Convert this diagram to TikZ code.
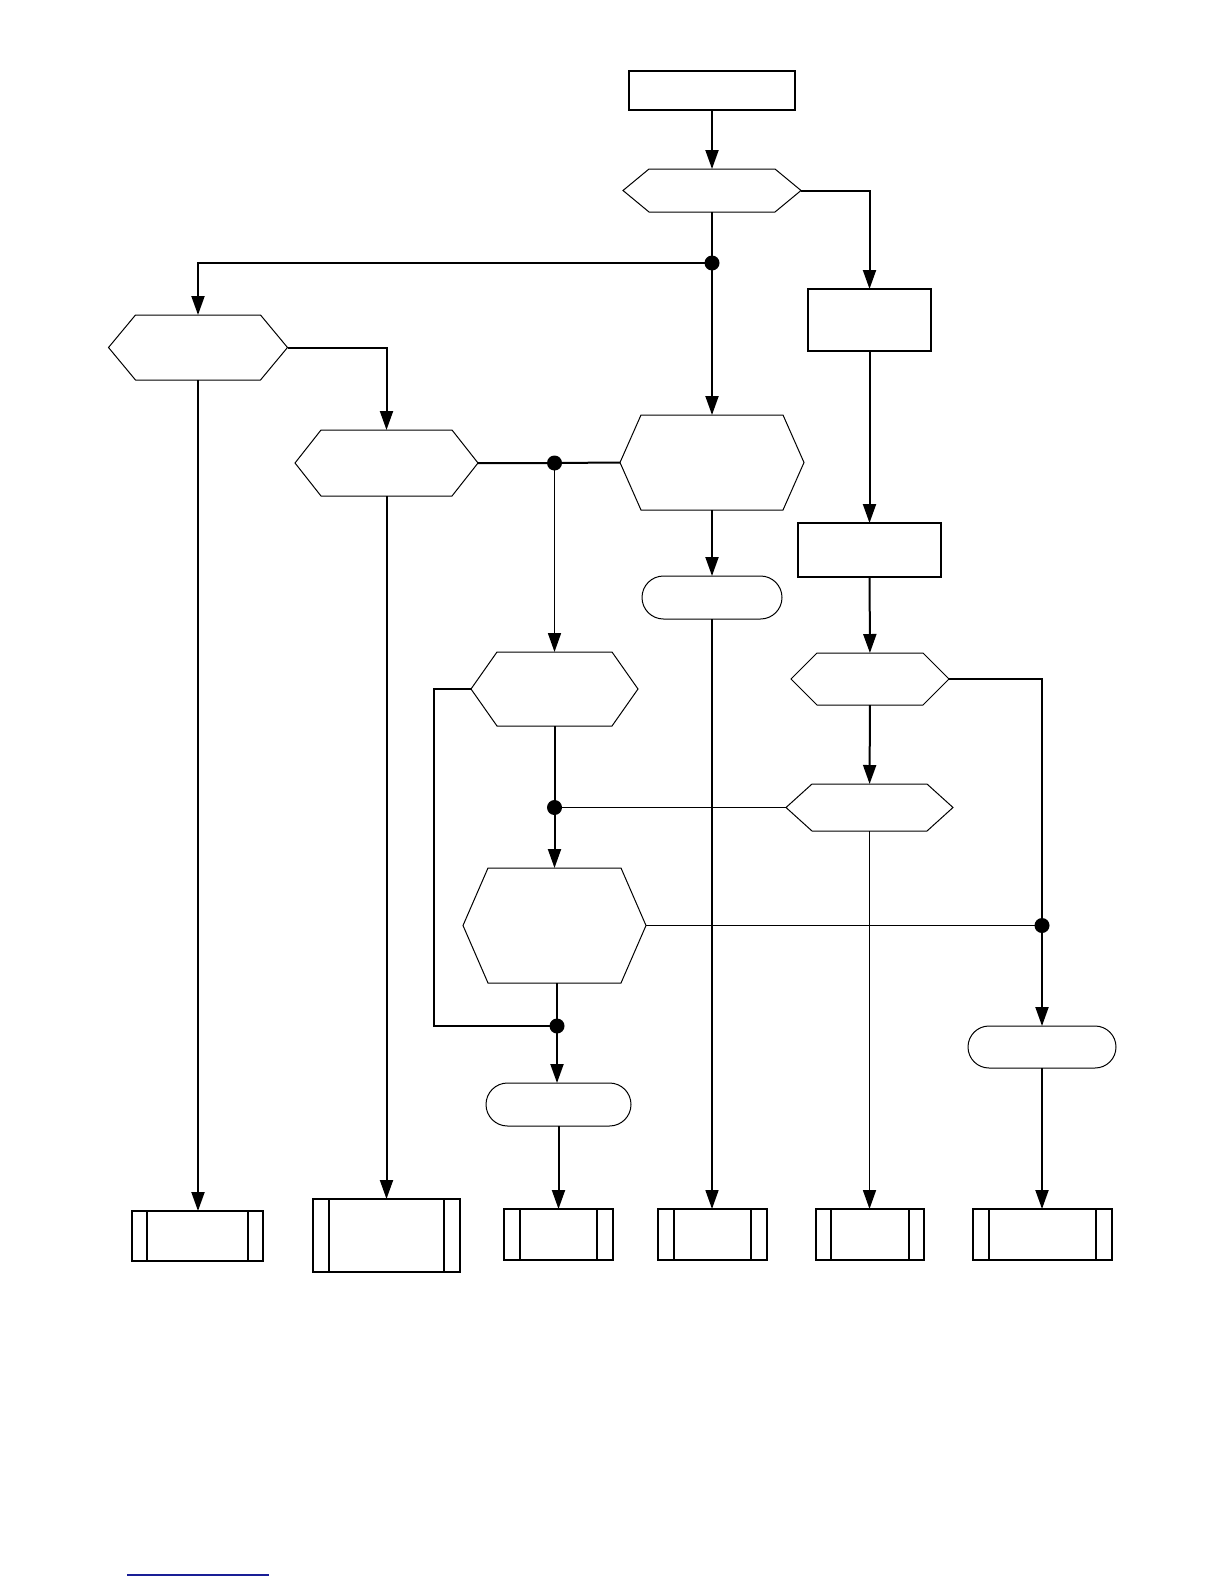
\documentclass[tikz,border=0pt]{standalone}
\usepackage{tikz}
\usetikzlibrary{arrows.meta, positioning, calc, shapes.misc}
\definecolor{linkBlue}{RGB}{25,30,150}

\begin{document}
\begin{tikzpicture}[
x=0.5pt, y=-0.5pt,
sz/.style 2 args={minimum width=#1pt, minimum height=#2pt},
startbox/.style={
draw,
rectangle,
inner sep=0pt,
outer sep=0pt,
line width=0.75pt
},
hexbox/.style={
rectangle,
inner sep=0pt,
outer sep=0pt
},
hexline/.style={draw, line width=0.5pt},
termbox/.style={
draw,
rounded rectangle,
inner sep=0pt,
outer sep=0pt,
line width=0.5pt
},
predbox/.style={
draw,
rectangle,
inner sep=0pt,
outer sep=0pt,
line width=0.6pt
},
dot/.style={circle, fill, inner sep=0pt, minimum size=7.5pt},
line/.style={line width=1pt},
thin line/.style={line width=0.85pt},
arrow/.style={-{Triangle[length=9.5pt, width=6.5pt]}, line width=1pt},
thin arrow/.style={-{Triangle[length=9.5pt, width=6.5pt]}, line width=0.85pt}
]
\useasboundingbox (0,0) rectangle (1224,1584);

% top
\node[startbox, sz={83}{19.5}] (start) at (712,90.5) {};
\node[hexbox, sz={89}{21.5}] (dec1) at (712,190.5) {};

% left branch
\node[hexbox, sz={89.5}{32.5}] (dec2) at (198,347.5) {};
\node[hexbox, sz={91.5}{33}] (dec3) at (386.5,463) {};

% middle
\node[hexbox, sz={92}{47.5}] (dec4) at (712,462.5) {};
\node[termbox, sz={70}{21.5}] (term1) at (712,597.5) {};
\node[hexbox, sz={83.5}{37}] (dec7) at (554.5,689) {};
\node[hexbox, sz={91.5}{57.5}] (dec8) at (554.5,925.5) {};
\node[termbox, sz={72.5}{21.5}] (term2) at (558.5,1104.5) {};

% right branch
\node[startbox, sz={61.5}{31}] (proc1) at (869.5,320) {};
\node[startbox, sz={71.5}{27}] (proc2) at (869.5,550) {};
\node[hexbox, sz={79}{26}] (dec5) at (870,679) {};
\node[hexbox, sz={83.5}{23.5}] (dec6) at (869.5,807.5) {};
\node[termbox, sz={74}{21}] (term3) at (1042,1047) {};

% bottom row
\node[predbox, sz={65.5}{25}] (b1) at (197.5,1236) {};
\node[predbox, sz={73.5}{36.5}, line width=1pt] (b2) at (386.5,1235.5) {};
\node[predbox, sz={54.5}{25.5}] (b3) at (558.5,1234.5) {};
\node[predbox, sz={54.5}{25.5}] (b4) at (712.5,1234.5) {};
\node[predbox, sz={54}{25.5}] (b5) at (870,1234.5) {};
\node[predbox, sz={69.5}{25.5}] (b6) at (1042.5,1234.5) {};

% hexagon outlines
\foreach \n/\d in {dec1/13pt, dec2/13.5pt, dec3/13pt, dec4/10.5pt, dec5/13pt, dec6/13pt, dec7/13pt, dec8/12.5pt}
\draw[hexline] (\n.west) -- ([xshift=\d]\n.north west) -- ([xshift=-\d]\n.north east)
-- (\n.east) -- ([xshift=-\d]\n.south east) -- ([xshift=\d]\n.south west) -- cycle;

% side bars
\foreach \n/\o in {b1/7.5pt, b2/8pt, b3/8pt, b4/8pt, b5/7.5pt, b6/8pt}
\draw[line width=0.6pt] ([xshift=\o]\n.north west) -- ([xshift=\o]\n.south west)
([xshift=-\o]\n.north east) -- ([xshift=-\o]\n.south east);

% junctions
\node[dot] (j1) at (712,263) {};
\node[dot] (j2) at (554.5,463) {};
\node[dot] (j3) at (dec7.south |- dec6.west) {};
\node[dot] (j4) at (557,1026) {};
\node[dot] (j5) at (1042,925.5) {};
\coordinate (lp) at (434,1026);

% connectors
\draw[arrow] (start) -- (dec1);
\draw[line] (dec1.south) -- (j1.center);
\draw[arrow] (j1.center) -- (dec4.north);
\draw[arrow] (j1.center) -| (dec2.north);
\draw[arrow] (dec1.east) -| (proc1.north);
\draw[arrow] (proc1) -- (proc2);
\draw[arrow] (proc2) -- (dec5);
\draw[arrow] (dec5) -- (dec6);
\draw[thin arrow] (dec6.south) -- (dec6.south |- b5.north);

\draw[arrow] (dec2.east) -| (dec3.north);
\draw[arrow] (dec2.south) -- (dec2.south |- b1.north);
\draw[arrow] (dec3.south) -- (dec3.south |- b2.north);
\draw[line] (dec3.east) -- (j2.center) -- (dec4.west);
\draw[thin arrow] (j2.center) -- (dec7.north);
\draw[arrow] (dec4) -- (term1);
\draw[thin arrow] (term1.south) -- (term1.south |- b4.north);

\draw[line] (dec7.south) -- (j3.center);
\draw[arrow] (j3.center) -- (dec8.north);
\draw[thin line] (dec6.west) -- (j3.center);
\draw[line] (dec8.south -| j4) -- (j4.center);
\draw[thin line] (dec7.west) -| (lp) -- (j4.center);
\draw[arrow] (j4.center) -- (j4 |- term2.north);
\draw[arrow] (term2.south) -- (term2.south |- b3.north);

\draw[thin line] (dec5.east) -| (j5.center);
\draw[thin line] (dec8.east) -- (j5.center);
\draw[arrow] (j5.center) -- (j5 |- term3.north);
\draw[arrow] (term3.south) -- (term3.south |- b6.north);

% link underline
\draw[linkBlue, line width=0.6pt] (127,1575) -- (269,1575);

\end{tikzpicture}
\end{document}
